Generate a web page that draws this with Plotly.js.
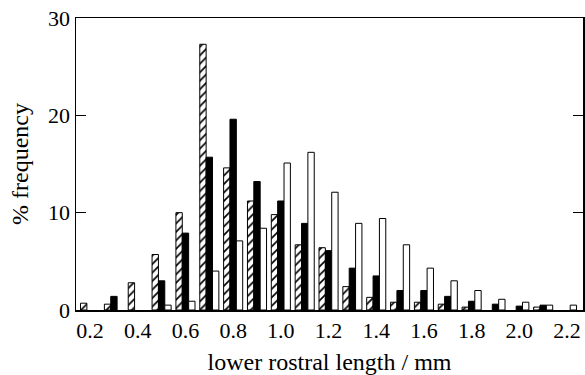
<!DOCTYPE html>
<html>
<head>
<meta charset="utf-8">
<script src="https://cdn.plot.ly/plotly-3.0.1.min.js"></script>
<style>html,body{margin:0;padding:0;background:#fff;}#chart{width:585px;height:375px;}</style>
</head>
<body>
<div id="chart"></div>
<script>
// Category positions (lower rostral length, mm)
var lengths = [0.2, 0.3, 0.4, 0.5, 0.6, 0.7, 0.8, 0.9, 1.0, 1.1, 1.2, 1.3, 1.4, 1.5, 1.6, 1.7, 1.8, 1.9, 2.0, 2.1, 2.2];
// % frequency, hatched series
var hatchedVals = [0.7, 0.6, 2.8, 5.7, 10.0, 27.3, 14.6, 11.2, 9.8, 6.7, 6.4, 2.4, 1.3, 0.8, 0.8, 0.6, 0.3, null, null, 0.3, null];
// % frequency, black series
var blackVals = [null, 1.4, null, 3.0, 7.9, 15.7, 19.6, 13.2, 11.2, 8.9, 6.1, 4.3, 3.5, 2.0, 2.0, 1.4, 0.9, 0.6, 0.4, 0.5, null];
// % frequency, white series
var whiteVals = [null, null, null, 0.5, 0.9, 4.0, 7.1, 8.4, 15.1, 16.2, 12.1, 8.9, 9.4, 6.7, 4.3, 3.0, 2.0, 1.1, 0.8, 0.5, 0.5];
var xTicks = [0.2, 0.4, 0.6, 0.8, 1.0, 1.2, 1.4, 1.6, 1.8, 2.0, 2.2];
var yTicks = [0, 10, 20, 30];

var serif = 'Liberation Serif';
var outline = {color: '#000', width: 1};

var traces = [
  {type: 'bar', x: lengths, y: hatchedVals, name: 'hatched',
   marker: {color: '#fff', line: outline,
            pattern: {shape: '/', fgcolor: '#000', bgcolor: '#fff', size: 6, solidity: 0.28, fillmode: 'replace'}}},
  {type: 'bar', x: lengths, y: blackVals, name: 'black',
   marker: {color: '#000', line: outline}},
  {type: 'bar', x: lengths, y: whiteVals, name: 'white',
   marker: {color: '#fff', line: outline}}
];

var layout = {
  width: 585, height: 375,
  margin: {l: 76, r: 2, t: 18, b: 65, pad: 0},
  paper_bgcolor: '#fff', plot_bgcolor: '#fff',
  showlegend: false,
  barmode: 'group', bargap: 0.2, bargroupgap: 0,
  font: {family: serif, color: '#000', size: 22},
  xaxis: {
    range: [0.141, 2.267], tickvals: xTicks, ticktext: xTicks.map(function(v){return v.toFixed(1);}),
    ticks: '', showgrid: false, zeroline: false,
    showline: true, linecolor: '#000', linewidth: 1.5, mirror: true,
    tickfont: {family: serif, size: 22, color: '#000'},
    title: {text: 'lower rostral length / mm', font: {family: serif, size: 24, color: '#000'}, standoff: 12}
  },
  yaxis: {
    range: [0, 30], tickvals: yTicks, ticktext: yTicks.map(String),
    ticks: 'inside', ticklen: 10, tickwidth: 1.5, tickcolor: '#000',
    showgrid: false, zeroline: false,
    showline: true, linecolor: '#000', linewidth: 1.5, mirror: 'ticks',
    tickfont: {family: serif, size: 22, color: '#000'},
    title: {text: '% frequency', font: {family: serif, size: 24, color: '#000'}, standoff: 12}
  }
};

Plotly.newPlot('chart', traces, layout, {staticPlot: true, displayModeBar: false});
</script>
</body>
</html>
